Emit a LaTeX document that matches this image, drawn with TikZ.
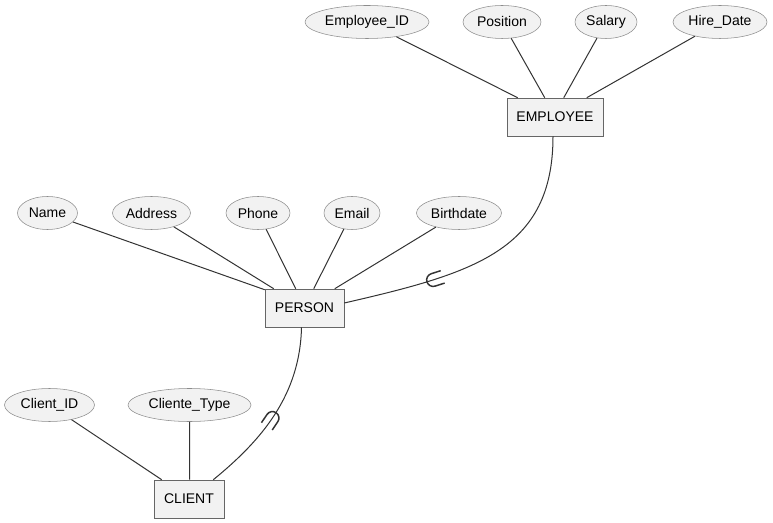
\documentclass[tikz,border=0pt]{standalone}
\usepackage{fontspec}
\setmainfont{Liberation Sans}
\usetikzlibrary{calc,decorations.markings,shapes.geometric}
\definecolor{fillc}{HTML}{F2F2F2}
\definecolor{boxd}{HTML}{666666}
\definecolor{elld}{HTML}{8C8C8C}
\definecolor{linec}{HTML}{333333}
\tikzset{
  attr/.style={ellipse,draw=elld,fill=fillc,minimum height=24.75pt,inner sep=0pt,font=\fontsize{10.5}{12}\selectfont},
  entity/.style={rectangle,draw=boxd,fill=fillc,minimum height=28.5pt,inner sep=0pt,font=\fontsize{10.5}{12}\selectfont},
  conn/.style={draw=linec,line width=0.75pt},
  supmark/.style={postaction={decorate},decoration={markings,mark=at position #1 with {\draw[linec,line width=1.1pt] (-10,6.5) -- (0,6.5) arc (90:-90:6.5) -- (-10,-6.5);}}},
  submark/.style={postaction={decorate},decoration={markings,mark=at position #1 with {\draw[linec,line width=1.1pt] (10,6.5) -- (0,6.5) arc (90:270:6.5) -- (10,-6.5);}}}
}
\begin{document}
\begin{tikzpicture}[x=0.75pt,y=-0.75pt]
\useasboundingbox (0,0) rectangle (773,523);
% entities
\node[entity,minimum width=72pt] (emp) at (555,117) {EMPLOYEE};
\node[entity,minimum width=59.25pt] (per) at (304.5,308) {PERSON};
\node[entity,minimum width=52.5pt] (cli) at (189,499) {CLIENT};
% employee attributes
\node[attr,minimum width=93pt] (eid) at (367,22) {Employee\_ID};
\node[attr,minimum width=58.5pt] (pos) at (502,22) {Position};
\node[attr,minimum width=46.5pt] (sal) at (606,22) {Salary};
\node[attr,minimum width=70.5pt] (hd) at (720,22) {Hire\_Date};
% person attributes
\node[attr,minimum width=45pt] (nam) at (47.5,213) {Name};
\node[attr,minimum width=58.5pt] (adr) at (151.5,213) {Address};
\node[attr,minimum width=48pt] (pho) at (258,213) {Phone};
\node[attr,minimum width=42pt] (eml) at (352,213) {Email};
\node[attr,minimum width=63.75pt] (bd) at (459,213) {Birthdate};
% client attributes
\node[attr,minimum width=67.5pt] (cid) at (49.5,405) {Client\_ID};
\node[attr,minimum width=92.25pt] (ct) at (189.5,405) {Cliente\_Type};
% attribute connectors
\draw[conn] (eid) -- ($(emp.north west)+(11,0)$);
\draw[conn] (pos) -- ($(emp.north west)+(38,0)$);
\draw[conn] (sal) -- ($(emp.north west)+(57,0)$);
\draw[conn] (hd) -- ($(emp.north west)+(80,0)$);
\draw[conn] (nam) -- ($(per.north west)+(0,1)$);
\draw[conn] (adr) -- ($(per.north west)+(9,0)$);
\draw[conn] (pho) -- ($(per.north west)+(31,0)$);
\draw[conn] (eml) -- ($(per.north west)+(49,0)$);
\draw[conn] (bd) -- ($(per.north west)+(70,0)$);
\draw[conn] (cid) -- ($(cli.north west)+(8,0)$);
\draw[conn] (ct) -- ($(cli.north west)+(36,0)$);
% specialization connectors
\draw[conn,supmark=0.69] ($(emp.south)+(-2,0)$) .. controls (553,250) and (475,273) .. ($(per.east)+(0,-5)$);
\draw[conn,submark=0.53] ($(per.south)+(-3,0)$) .. controls (300,395) and (262,440) .. ($(cli.north east)+(-11,0)$);
\end{tikzpicture}
\end{document}
